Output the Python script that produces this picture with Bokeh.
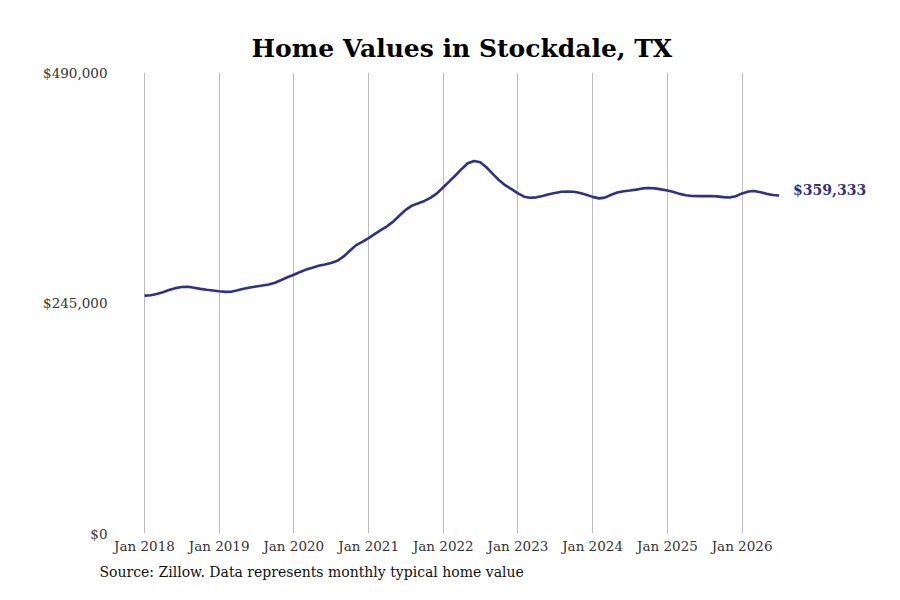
import pandas as pd
from bokeh.plotting import figure
from bokeh.models import ColumnDataSource, FixedTicker, NumeralTickFormatter, Label, Title, Range1d, DatetimeTickFormatter
from bokeh.embed import file_html
from bokeh.resources import INLINE

# ---- data ----
start_month = "2018-01-01"
values = [
    252800, 253300, 254500, 256500, 258800, 260800, 262000, 262300, 261300, 260000, 259000, 258300,
    257500, 256800, 257000, 258500, 260200, 261500, 262600, 263600, 264600, 266500, 269500, 272300,
    275000, 278000, 280500, 282500, 284500, 286000, 287500, 289800, 294500, 300500, 306500, 310000,
    314000, 318500, 322500, 326500, 331500, 338000, 344000, 348500, 351000, 353500, 357000, 361500,
    368000, 374500, 380500, 387500, 393500, 396000, 394500, 389000, 382000, 375500, 370000, 366000,
    361500, 358000, 356800, 357300, 358800, 360500, 362000, 363300, 363500, 363200, 362000, 360000,
    357800, 356200, 357000, 360000, 362500, 363800, 364500, 365500, 366800, 367300, 366800, 365800,
    364500, 363000, 361000, 359500, 358800, 358600, 358600, 358800, 358300, 357500, 357200, 358500,
    361500, 363500, 364000, 362800, 361000, 359800, 359333,
]
tick_years = [2018, 2019, 2020, 2021, 2022, 2023, 2024, 2025, 2026]
y_ticks = [0, 245000, 490000]
title_text = "Home Values in Stockdale, TX"
source_text = "Source: Zillow. Data represents monthly typical home value"
end_label = "$359,333"

dates = pd.date_range(start_month, periods=len(values), freq="MS")
src = ColumnDataSource(dict(date=dates, value=values))

LINE = "#2f2f8c"
FONT = "DejaVu Serif"

t0 = pd.Timestamp("2018-01-01")
day = pd.Timedelta(days=1)
x_start = t0 - 0.388 * 365.25 * day
x_end = t0 + 9.786 * 365.25 * day

p = figure(width=884, height=584, x_axis_type="datetime",
           output_backend="svg", toolbar_location=None,
           x_range=Range1d(x_start, x_end), y_range=Range1d(0, 490000),
           min_border_left=115, min_border_right=9, min_border_top=72, min_border_bottom=50)

p.line("date", "value", source=src, line_color=LINE, line_width=2.6)

p.outline_line_color = None
p.ygrid.grid_line_color = None
p.xgrid.grid_line_color = "#bdbdbd"
p.xgrid.grid_line_width = 1

tick_ms = [pd.Timestamp(f"{y}-01-01").value // 10**6 for y in tick_years]
p.xaxis.ticker = FixedTicker(ticks=tick_ms)
p.xaxis.formatter = DatetimeTickFormatter(days="%b %Y", months="%b %Y", years="%b %Y")
p.yaxis.ticker = FixedTicker(ticks=y_ticks)
p.yaxis.formatter = NumeralTickFormatter(format="$0,0")

for ax in (p.xaxis, p.yaxis):
    ax.axis_line_color = None
    ax.major_tick_line_color = None
    ax.minor_tick_line_color = None
    ax.major_tick_out = 0
    ax.major_tick_in = 0
    ax.minor_tick_out = 0
    ax.minor_tick_in = 0
    ax.major_label_text_font = FONT
    ax.major_label_text_font_size = "13.5px"
    ax.major_label_text_color = "#333333"
p.yaxis.major_label_standoff = 8
p.xaxis.major_label_standoff = 4

p.title.text = title_text
p.title.text_font = FONT
p.title.text_font_size = "25px"
p.title.text_font_style = "bold"
p.title.align = "left"
p.title.offset = 136
p.title.standoff = 19
p.title.text_color = "#000000"

p.add_layout(Title(text=source_text, align="left", text_font=FONT, text_font_size="14px",
                   text_font_style="normal", text_color="#111111", offset=-16), "below")

p.add_layout(Label(x=dates[-1], y=values[-1], text=end_label, x_offset=14, y_offset=5,
                   text_baseline="middle", text_font=FONT, text_font_size="14px",
                   text_font_style="bold", text_color=LINE))

open("out.html", "w").write(file_html(p, INLINE))
